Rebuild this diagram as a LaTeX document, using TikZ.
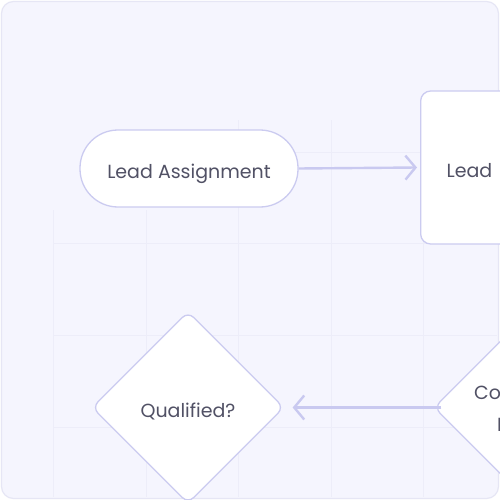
\documentclass[tikz,border=0pt]{standalone}
\usepackage{fontspec}
\setmainfont{Poppins}
\usetikzlibrary{shapes.geometric,arrows.meta}
\definecolor{bgfill}{HTML}{F5F5FE}
\definecolor{bgline}{HTML}{E6E6F5}
\definecolor{gridc}{HTML}{EDEDF9}
\definecolor{nodeline}{HTML}{CBCBF0}
\definecolor{arrowc}{HTML}{C9C9F0}
\definecolor{txt}{HTML}{515165}
\tikzset{
  base/.style={draw=nodeline, fill=white, line width=1.3pt, text=txt, font=\fontsize{19}{32}\selectfont, align=center, text height=19pt, text depth=0pt},
  stadium/.style={base, rounded corners=38pt, minimum width=218pt, minimum height=77pt, inner sep=0pt},
  boxnode/.style={base, rounded corners=10pt, minimum width=200pt, minimum height=153pt, inner sep=0pt},
  decision/.style={base, diamond, aspect=1, rounded corners=8pt, minimum width=192pt, minimum height=192pt, inner sep=0pt},
  plaintext/.style={text=txt, font=\fontsize{19}{32}\selectfont, align=center, inner sep=0pt},
  flow/.style={draw=arrowc, line width=2.4pt, -{Straight Barb[length=10pt,width=24pt,line width=2.4pt]}},
  gridline/.style={draw=gridc, line width=0.8pt}
}
\begin{document}
\begin{tikzpicture}[x=1pt,y=-1pt]
\useasboundingbox (0,0) rectangle (500,500);
\clip (0,0) rectangle (500,500);
\fill[white] (0,0) rectangle (500,500);
\draw[fill=bgfill, draw=bgline, line width=1.2pt, rounded corners=12pt] (1.5,1.5) rectangle (498.5,498.5);
% faint grid
\foreach \x/\s in {53/210,146/210,238/120,331/120,423/120}{
  \draw[gridline] (\x,\s) -- (\x,497);
}
\draw[gridline] (238,152) -- (497,152);
\foreach \y in {243,335,427}{
  \draw[gridline] (53,\y) -- (497,\y);
}
% nodes
\node[stadium] (assign) at (189,168.5) {Lead Assignment};
\node[boxnode, anchor=west, text width=180pt, align=left] (lead) at (420,167.5) {\hspace*{16pt}Lead};
\node[decision] (qual) at (188,407.5) {Qualified?};
\node[decision] (contact) at (530,407.5) {};
\node[plaintext, anchor=base] (contacttext) at (525,431) {Contacted\\Lead?};
% connectors
\draw[flow] (assign.east) -- ([xshift=-3pt]lead.west);
\draw[flow] ([xshift=8pt]contact.west) -- ([xshift=8pt]qual.east);
\end{tikzpicture}
\end{document}
